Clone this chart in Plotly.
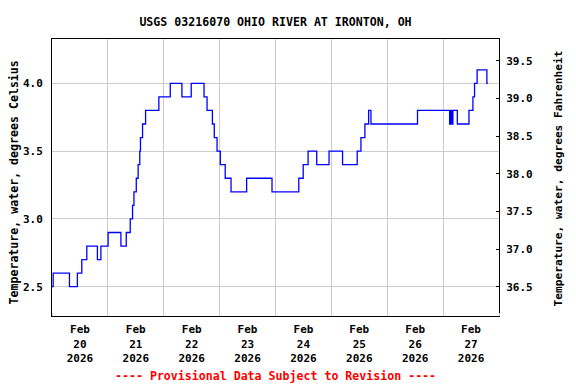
import pandas as pd
import plotly.graph_objects as go

# Change points: hours since 2026-02-20 00:00 and water temperature (deg C)
base_time = "2026-02-20 00:00"
hours = [0.0, 0.5, 7.5, 10.9, 12.8, 14.95, 19.5, 21.0, 24.1, 29.6, 31.9, 33.6, 34.6,
         35.2, 36.2, 37.0, 37.7, 38.0, 38.9, 40.2, 45.9, 50.8, 55.8, 59.8, 65.3,
         66.6, 68.9, 69.7, 70.9, 72.3, 74.4, 76.9, 83.6, 94.5, 106.0, 107.9, 110.0,
         113.7, 119.0, 124.8, 131.1, 132.7, 134.4, 136.0, 137.0, 157.0, 170.8,
         171.1, 171.3, 171.6, 171.8, 172.2, 174.1, 179.1, 180.8, 181.5, 182.6,
         186.8, 187.2]
temps_c = [2.5, 2.6, 2.5, 2.6, 2.7, 2.8, 2.7, 2.8, 2.9, 2.8, 2.9, 3.0, 3.1,
           3.2, 3.3, 3.4, 3.5, 3.6, 3.7, 3.8, 3.9, 4.0, 3.9, 4.0, 3.9,
           3.8, 3.7, 3.6, 3.5, 3.4, 3.3, 3.2, 3.3, 3.2, 3.3, 3.4, 3.5,
           3.4, 3.5, 3.4, 3.5, 3.6, 3.7, 3.8, 3.7, 3.8, 3.7,
           3.8, 3.7, 3.8, 3.7, 3.8, 3.7, 3.8, 3.9, 4.0, 4.1,
           4.0, 4.0]

day_labels = ["Feb<br>20<br>2026", "Feb<br>21<br>2026", "Feb<br>22<br>2026",
              "Feb<br>23<br>2026", "Feb<br>24<br>2026", "Feb<br>25<br>2026",
              "Feb<br>26<br>2026", "Feb<br>27<br>2026"]
c_ticks = [2.5, 3.0, 3.5, 4.0]
f_ticks = [36.5, 37.0, 37.5, 38.0, 38.5, 39.0, 39.5]

t0 = pd.Timestamp(base_time)
times = [t0 + pd.Timedelta(hours=h) for h in hours]
temps_f = [c * 1.8 + 32 for c in temps_c]
label_pos = [t0 + pd.Timedelta(hours=12 + 24 * i) for i in range(len(day_labels))]

c_range = [2.284, 4.327]
f_range = [c * 1.8 + 32 for c in c_range]

FONT = "DejaVu Sans Mono"
# page body has an 8px default margin, so the figure is 8px smaller
W, H = 568, 376

fig = go.Figure()
fig.add_trace(go.Scatter(x=times, y=temps_c, mode="lines", line_shape="hv",
                         line=dict(color="#0000ff", width=1.3),
                         showlegend=False, hoverinfo="skip"))
fig.add_trace(go.Scatter(x=times, y=temps_f, mode="lines", line_shape="hv",
                         line=dict(color="rgba(0,0,0,0)", width=0), yaxis="y2",
                         showlegend=False, hoverinfo="skip"))

fig.update_layout(
    width=W, height=H,
    margin=dict(l=44, r=77, t=31, b=68),
    paper_bgcolor="white", plot_bgcolor="white",
    font=dict(family=FONT, size=11, color="black", weight="bold"),
    title=dict(text="USGS 03216070 OHIO RIVER AT IRONTON, OH",
               x=0.5, xref="paper", y=1 - 14 / H, yref="container",
               yanchor="middle", xanchor="center",
               font=dict(family=FONT, size=11.6, color="black", weight="bold")),
    xaxis=dict(
        range=[t0, t0 + pd.Timedelta(days=8)],
        tickmode="array", tickvals=label_pos, ticktext=day_labels,
        ticks="", showgrid=False, zeroline=False,
        showline=True, linecolor="black", linewidth=1, mirror=True,
        ticklabelstandoff=3, automargin=False,
        tickfont=dict(family=FONT, size=11, color="black", weight="bold"),
        minor=dict(tickmode="linear", tick0=t0, dtick=86400000,
                   showgrid=True, gridcolor="#cccccc", gridwidth=1,
                   ticks="inside", ticklen=3, tickcolor="#cccccc"),
    ),
    yaxis=dict(
        range=c_range, tickmode="array", tickvals=c_ticks,
        ticktext=[f"{v:.1f}" for v in c_ticks],
        showgrid=True, gridcolor="#cccccc", gridwidth=1, zeroline=False,
        showline=True, linecolor="black", linewidth=1, ticks="",
        ticklabelstandoff=6, automargin=False,
    ),
    yaxis2=dict(
        range=f_range, overlaying="y", side="right",
        tickmode="array", tickvals=f_ticks,
        ticktext=[f"{v:.1f}" for v in f_ticks],
        showgrid=False, zeroline=False, showline=True, linecolor="black",
        linewidth=1, ticks="inside", ticklen=3, tickcolor="black",
        ticklabelstandoff=4, automargin=False,
    ),
    annotations=[
        dict(text="Temperature, water, degrees Celsius", textangle=-90,
             x=-39 / 447, y=(316 - 182.5) / 277, xref="paper", yref="paper",
             showarrow=False, xanchor="center", yanchor="middle", borderpad=0,
             font=dict(family=FONT, size=11.6, color="black", weight="bold")),
        dict(text="Temperature, water, degrees Fahrenheit", textangle=-90,
             x=(558 - 52) / 447, y=(316 - 178.5) / 277, xref="paper", yref="paper",
             showarrow=False, xanchor="center", yanchor="middle", borderpad=0,
             font=dict(family=FONT, size=11.2, color="black", weight="bold")),
        dict(text="---- Provisional Data Subject to Revision ----",
             x=(275 - 52) / 447, y=(316 - 376) / 277, xref="paper", yref="paper",
             showarrow=False, xanchor="center", yanchor="middle",
             font=dict(family=FONT, size=11.6, color="red", weight="bold")),
    ],
)

fig.write_html("out.html")
